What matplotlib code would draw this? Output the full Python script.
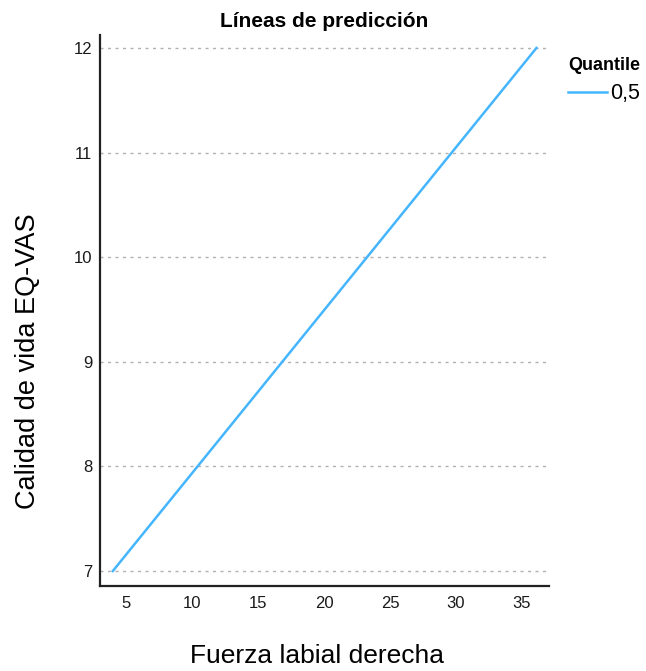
import matplotlib
matplotlib.use("Agg")
import matplotlib.pyplot as plt
from matplotlib.lines import Line2D

plt.rcParams['font.family'] = ['Liberation Sans', 'DejaVu Sans']

# Predicted quantile line (q = 0.5)
fuerza = [4.0, 36.1]
calidad = [7.0, 12.0]
quantile_label = "0,5"

x_ticks = [5, 10, 15, 20, 25, 30, 35]
y_ticks = [7, 8, 9, 10, 11, 12]

W, H = 646, 671
LINE_COLOR = '#45B6FE'

fig = plt.figure(figsize=(W / 100, H / 100), dpi=100)
ax = fig.add_axes([100 / W, 1 - 586 / H, 449 / W, 551 / H])

ax.set_xlim(3.03, 37.05)
ax.set_ylim(6.857, 12.124)

for yv in y_ticks:
    ax.axhline(yv, color='#b2b2b2', lw=1.0, ls=(0, (2.2, 3.2)), zorder=1)

ax.plot(fuerza, calidad, color=LINE_COLOR, lw=1.8, zorder=3)

ax.set_xticks(x_ticks)
ax.set_yticks(y_ticks)
ax.tick_params(length=0, labelsize=12, colors='#1a1a1a')
ax.tick_params(axis='y', pad=5.5)
ax.tick_params(axis='x', pad=7.5)

for s in ['top', 'right']:
    ax.spines[s].set_visible(False)
for s in ['left', 'bottom']:
    ax.spines[s].set_linewidth(1.6)
    ax.spines[s].set_color('#222222')

# Title and axis labels
fig.text(324.5 / W, 1 - 27 / H, "Líneas de predicción", fontsize=15,
         fontweight='bold', ha='center', va='baseline')
fig.text(317.5 / W, 1 - 663 / H, "Fuerza labial derecha", fontsize=19,
         ha='center', va='baseline')
fig.text(28 / W, 1 - 361 / H, "Calidad de vida EQ-VAS", fontsize=19.5,
         rotation=90, ha='center', va='center')

# Legend
fig.text(568 / W, 1 - 70 / H, "Quantile", fontsize=13, fontweight='bold',
         ha='left', va='baseline')
fig.add_artist(Line2D([568 / W, 607 / W], [1 - 92 / H, 1 - 92 / H],
                      color=LINE_COLOR, lw=1.8, transform=fig.transFigure))
fig.text(610 / W, 1 - 99 / H, quantile_label, fontsize=15.5,
         ha='left', va='baseline')

fig.savefig("out.png", dpi=100)
